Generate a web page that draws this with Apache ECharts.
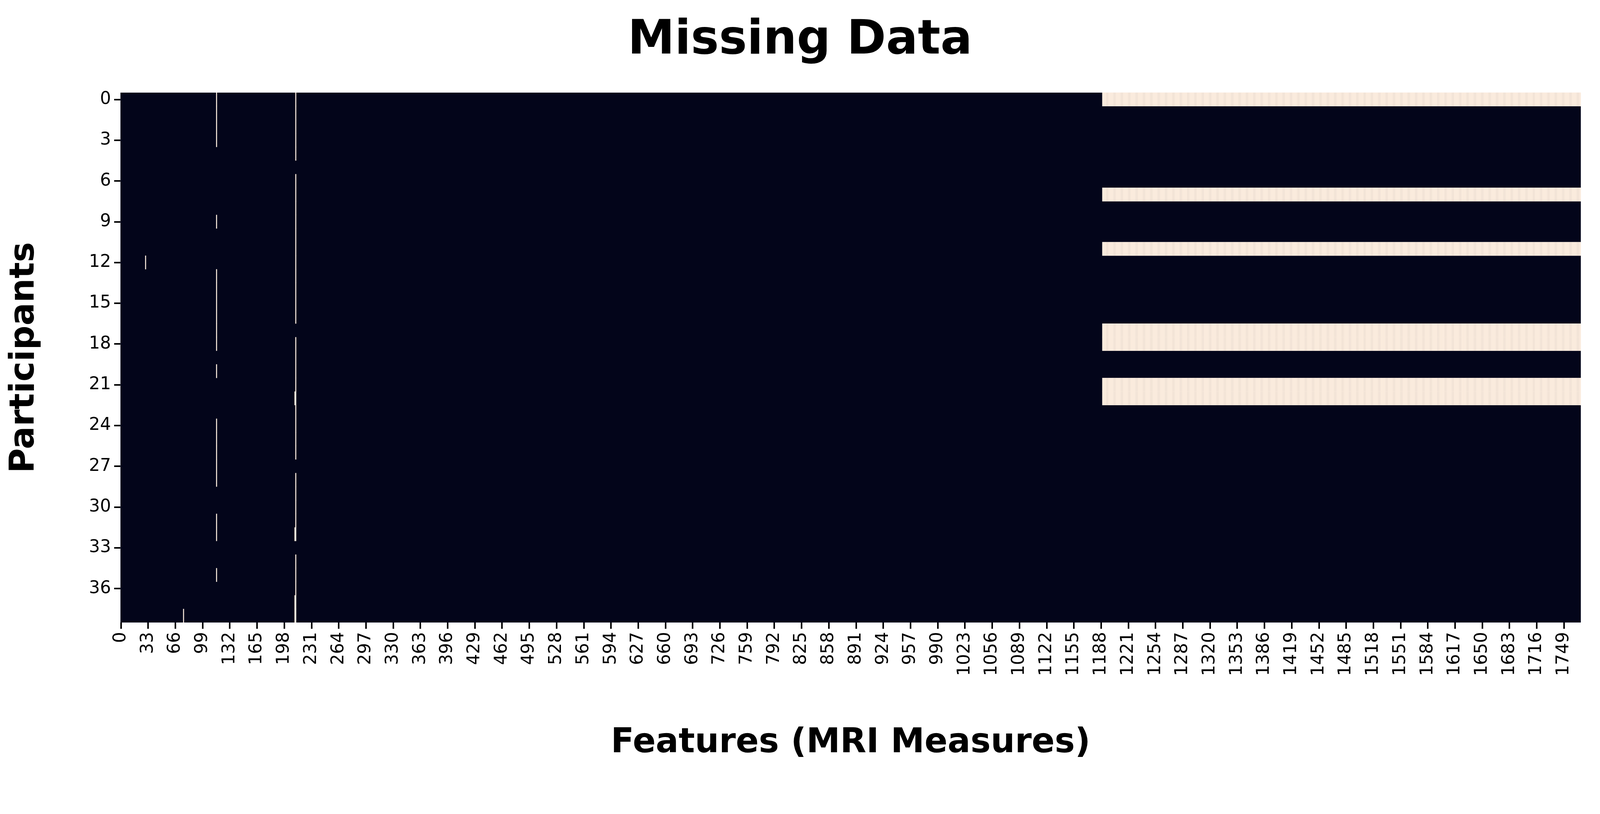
<!DOCTYPE html>
<html>
<head>
<meta charset="utf-8">
<script src="https://cdn.jsdelivr.net/npm/echarts@6/dist/echarts.min.js"></script>
<style>html,body{margin:0;padding:0;background:#fff;overflow:hidden}#main{width:100vw;height:100vh}</style>
</head>
<body>
<div id="main"></div>
<script>
const nRows = 39
const nCols = 1770
// missing cells: [col, fromRow, toRow]
const missingColumnRuns = [
  [116, 0, 3], [116, 9, 9], [116, 13, 18], [116, 20, 20], [116, 24, 28], [116, 31, 32], [116, 35, 35],
  [212, 0, 4], [212, 6, 16], [212, 18, 26], [212, 28, 32], [212, 34, 38],
  [211, 22, 22], [211, 32, 32], [211, 37, 38],
  [30, 12, 12], [76, 38, 38]
]
// rows missing the whole right block
const missingRows = [0, 7, 11, 17, 18, 21, 22]
const blockStart = 1190

const rowLabels = Array.from({ length: nRows }, (_, i) => String(i))
const colLabels = Array.from({ length: nCols }, (_, i) => String(i))

const data = []
missingColumnRuns.forEach(([c, a, b]) => {
  for (let r = a; r <= b; r++) data.push([c, r, 1])
})
missingRows.forEach(r => {
  for (let c = blockStart; c < nCols; c++) data.push([c, r, 1])
})

const el = document.getElementById('main')
const s = el.clientWidth / 5088
const sy = el.clientHeight / 2083
const font = 'DejaVu Sans'
const myChart = echarts.init(el)
myChart.setOption({
  animation: false,
  title: {
    text: 'Missing Data', left: 'center', top: 40 * sy,
    textStyle: { fontFamily: font, fontSize: 150 * s, fontWeight: 'bold', color: '#000' }
  },
  grid: { left: 383 * s, right: 61 * s, top: 237 * sy, bottom: 490 * sy, show: true, backgroundColor: '#03051a', borderWidth: 0 },
  xAxis: {
    type: 'category', data: colLabels,
    name: 'Features (MRI Measures)', nameLocation: 'middle', nameGap: 330 * s,
    nameTextStyle: { fontFamily: font, fontSize: 108 * s, fontWeight: 'bold', color: '#000' },
    axisLine: { show: false },
    axisTick: { show: true, interval: 32, alignWithLabel: true, length: 20 * s, lineStyle: { width: 5 * s, color: '#000' } },
    axisLabel: { interval: 32, rotate: 90, fontFamily: font, fontSize: 55 * s, color: '#000', margin: 30 * s },
    splitLine: { show: false }
  },
  yAxis: {
    type: 'category', data: rowLabels, inverse: true,
    name: 'Participants', nameLocation: 'middle', nameGap: 250 * s,
    nameTextStyle: { fontFamily: font, fontSize: 108 * s, fontWeight: 'bold', color: '#000' },
    axisLine: { show: false },
    axisTick: { show: true, interval: 2, alignWithLabel: true, length: 20 * s, lineStyle: { width: 5 * s, color: '#000' } },
    axisLabel: { interval: 2, fontFamily: font, fontSize: 55 * s, color: '#000', margin: 30 * s },
    splitLine: { show: false }
  },
  series: [{
    type: 'heatmap',
    data: data,
    itemStyle: { color: '#faebdd', borderWidth: 0 },
    progressive: 0
  }]
})
</script>
</body>
</html>
